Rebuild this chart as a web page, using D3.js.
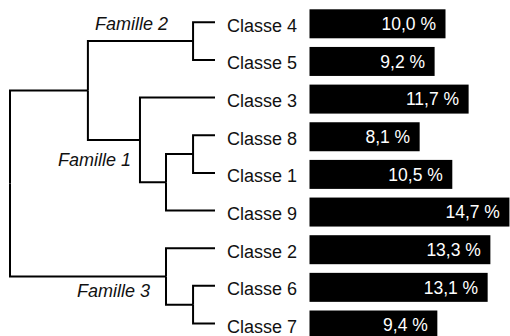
<!DOCTYPE html>
<html>
<head>
<meta charset="utf-8">
<title>Dendrogramme des classes</title>
<script src="https://d3js.org/d3.v7.min.js"></script>
<style>
  body { margin: 0; background: #fff; }
  text { font-family: "Liberation Sans", Arial, sans-serif; }
  .link { fill: none; stroke: #000; stroke-width: 2; }
  .leaf-label { font-size: 18px; fill: #111; }
  .fam-label { font-size: 18px; font-style: italic; fill: #111; }
  .bar { fill: #000; }
  .val { font-size: 17.5px; fill: #fff; }
</style>
</head>
<body>
<svg id="chart" width="510" height="336"></svg>
<script>
// leaves, top to bottom
var classes = ["Classe 4", "Classe 5", "Classe 3", "Classe 8", "Classe 1", "Classe 9", "Classe 2", "Classe 6", "Classe 7"];
var shares = [10.0, 9.2, 11.7, 8.1, 10.5, 14.7, 13.3, 13.1, 9.4];
var leafParents = ["F2", "F2", "F1", "n81", "n81", "n819", "F3", "n67", "n67"];

// internal nodes of the tree (height = merge level, 0..1)
var nodeIds = ["root", "A", "F2", "F1", "n819", "n81", "F3", "n67"];
var nodeParents = ["", "root", "A", "A", "F1", "n819", "root", "F3"];
var nodeHeights = [1, 0.62, 0.107, 0.366, 0.239, 0.107, 0.239, 0.107];

var famNodes = ["F2", "F1", "F3"];
var famLabels = ["Famille 2", "Famille 1", "Famille 3"];

var svg = d3.select("#chart");

var y = d3.scaleBand()
    .domain(classes)
    .range([9.3, 339.5])
    .paddingInner(0.23)
    .paddingOuter(0);

var xBar = d3.scaleLinear().domain([0, 15]).range([309.5, 513.5]);
var xTree = d3.scaleLinear().domain([0, 1]).range([215, 10]);

// build hierarchy
var rows = nodeIds.map(function (id, i) {
    return { id: id, parent: nodeParents[i] || null, h: nodeHeights[i] };
});
classes.forEach(function (c, i) {
    rows.push({ id: c, parent: leafParents[i], h: 0 });
});
// keep leaf order for children sorting
var order = {};
classes.forEach(function (c, i) { order[c] = i; });

var root = d3.stratify()
    .id(function (d) { return d.id; })
    .parentId(function (d) { return d.parent; })(rows);

root.eachAfter(function (d) {
    d.px = xTree(d.data.h);
    if (!d.children) {
        d.py = y(d.id) + y.bandwidth() / 2 - 1.5;
        d.first = order[d.id];
    } else {
        d.children.sort(function (a, b) { return a.first - b.first; });
        d.first = d.children[0].first;
        d.py = d3.mean(d.children, function (c) { return c.py; });
    }
});

svg.append("g").selectAll("path")
    .data(root.descendants().filter(function (d) { return d.parent; }))
    .join("path")
    .attr("class", "link")
    .attr("d", function (d) {
        return "M" + d.parent.px + "," + d.parent.py + "V" + d.py + "H" + d.px;
    });

// family labels
var famOffsets = { F2: [-25, -11.5], F1: [-9, 26], F3: [-16, 21] };
svg.append("g").selectAll("text")
    .data(famNodes)
    .join("text")
    .attr("class", "fam-label")
    .attr("text-anchor", "end")
    .attr("x", function (id) {
        var n = root.find(function (d) { return d.id === id; });
        return n.px + famOffsets[id][0];
    })
    .attr("y", function (id) {
        var n = root.find(function (d) { return d.id === id; });
        return n.py + famOffsets[id][1];
    })
    .text(function (id, i) { return famLabels[i]; });

// leaf labels
svg.append("g").selectAll("text")
    .data(classes)
    .join("text")
    .attr("class", "leaf-label")
    .attr("x", 227)
    .attr("y", function (d) { return y(d) + y.bandwidth() / 2 + 8; })
    .text(function (d) { return d; });

// bars
var bars = svg.append("g").selectAll("g")
    .data(classes)
    .join("g");

bars.append("rect")
    .attr("class", "bar")
    .attr("x", xBar(0))
    .attr("y", function (d) { return y(d); })
    .attr("width", function (d, i) { return xBar(shares[i]) - xBar(0); })
    .attr("height", y.bandwidth());

bars.append("text")
    .attr("class", "val")
    .attr("text-anchor", "end")
    .attr("x", function (d, i) { return xBar(shares[i]) - 9.5; })
    .attr("y", function (d) { return y(d) + y.bandwidth() / 2 + 6.3; })
    .text(function (d, i) { return d3.format(".1f")(shares[i]).replace(".", ",") + " %"; });
</script>
</body>
</html>
